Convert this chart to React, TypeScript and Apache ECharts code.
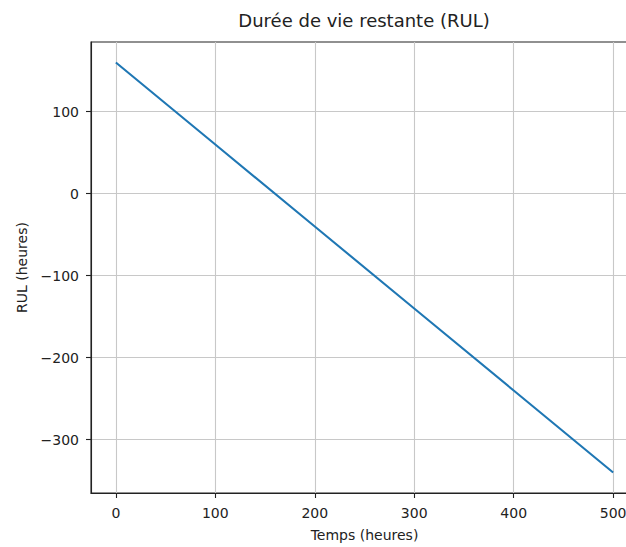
import React, { useEffect, useRef } from "react";
import * as echarts from "echarts";

const timeHours = [0, 100, 200, 300, 400, 500];
const rulHours = [160, 60, -40, -140, -240, -340];
const xTickValues = [0, 100, 200, 300, 400, 500];
const yTickValues = [-300, -200, -100, 0, 100];
const xRange = [-25, 525];
const yRange = [-365, 185];

const FONT = "DejaVu Sans";

export default function App() {
  const ref = useRef<HTMLDivElement>(null);
  useEffect(() => {
    const chart = echarts.init(ref.current!, null, { renderer: "svg" });
    chart.setOption({
      animation: false,
      backgroundColor: "#ffffff",
      graphic: [
        {
          type: "text",
          x: 364,
          y: 20,
          style: {
            text: "Durée de vie restante (RUL)",
            fontFamily: FONT,
            fontSize: 18,
            fill: "#222",
            align: "center",
            verticalAlign: "middle",
          },
        },
      ],
      grid: {
        left: 91,
        top: 42,
        right: 2,
        bottom: 50,
        show: true,
        borderColor: "#222",
        borderWidth: 1.1,
        backgroundColor: "transparent",
      },
      xAxis: {
        type: "value",
        min: xRange[0],
        max: xRange[1],
        name: "Temps (heures)",
        nameLocation: "middle",
        nameGap: 35,
        nameTextStyle: { fontFamily: FONT, fontSize: 14, color: "#222" },
        axisLine: { show: true, onZero: false, lineStyle: { color: "#222", width: 1.1 } },
        axisTick: {
          show: true,
          inside: false,
          length: 5,
          customValues: xTickValues,
          lineStyle: { color: "#222", width: 1.1 },
        },
        axisLabel: {
          customValues: xTickValues,
          margin: 13,
          fontFamily: FONT,
          fontSize: 14,
          color: "#222",
        },
        splitLine: { show: true, lineStyle: { color: "#c8c8c8", width: 1.1 } },
      },
      yAxis: {
        type: "value",
        min: yRange[0],
        max: yRange[1],
        name: "RUL (heures)",
        nameLocation: "middle",
        nameGap: 62,
        nameTextStyle: { fontFamily: FONT, fontSize: 14, color: "#222" },
        axisLine: { show: true, onZero: false, lineStyle: { color: "#222", width: 1.1 } },
        axisTick: {
          show: true,
          inside: false,
          length: 5,
          customValues: yTickValues,
          lineStyle: { color: "#222", width: 1.1 },
        },
        axisLabel: {
          customValues: yTickValues,
          margin: 12,
          fontFamily: FONT,
          fontSize: 14,
          color: "#222",
          formatter: (v: number) => (v < 0 ? "\u2212" + Math.abs(v) : String(v)),
        },
        splitLine: { show: true, lineStyle: { color: "#c8c8c8", width: 1.1 } },
      },
      series: [
        {
          type: "line",
          data: timeHours.map((t, i) => [t, rulHours[i]]),
          showSymbol: false,
          symbol: "none",
          lineStyle: { color: "#1f77b4", width: 2.1 },
        },
      ],
    });
    return () => chart.dispose();
  }, []);
  return (
    <div
      style={{
        position: "fixed",
        left: 0,
        top: 0,
        width: 626,
        height: 547,
        overflow: "hidden",
        background: "#fff",
      }}
    >
      <div ref={ref} style={{ width: 640, height: 547 }} />
    </div>
  );
}
